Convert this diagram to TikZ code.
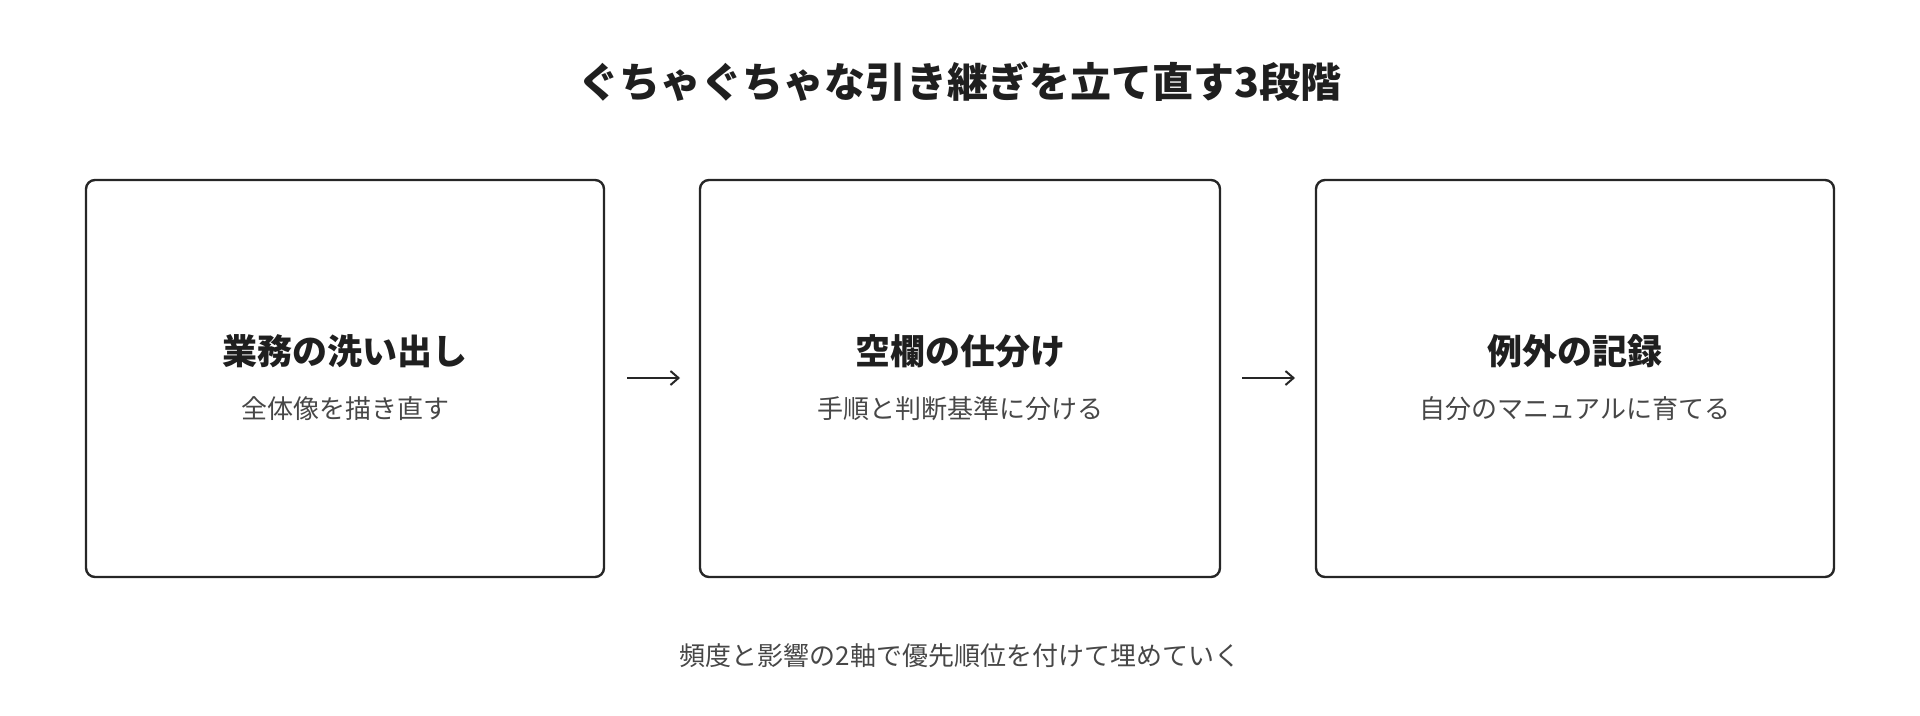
\documentclass[tikz,border=0pt]{standalone}
\usetikzlibrary{arrows.meta}
\usepackage{fontspec}
\newfontfamily\cjk{Noto Sans CJK JP}
\begin{document}
\begin{tikzpicture}[x=1pt,y=-1pt,
  box/.style={draw=black!85,line width=2.4pt,rounded corners=9pt},
  head/.style={font=\cjk\bfseries\fontsize{35}{40}\selectfont,text=black!88},
  sub/.style={font=\cjk\fontsize{26}{30}\selectfont,text=black!72},
  arr/.style={-{Straight Barb[length=8pt,width=14pt]},line width=2pt,draw=black!85}]
\useasboundingbox (0,0) rectangle (1920,715);
\node[font=\cjk\bfseries\fontsize{41}{46}\selectfont,text=black!88] (title) at (960,82) {ぐちゃぐちゃな引き継ぎを立て直す3段階};
\draw[box] (86,180) rectangle (604,577);
\draw[box] (700,180) rectangle (1220,577);
\draw[box] (1316,180) rectangle (1834,577);
\node[head] (h1) at (345,351) {業務の洗い出し};
\node[sub] (s1) at (345,409) {全体像を描き直す};
\node[head] (h2) at (960,351) {空欄の仕分け};
\node[sub] (s2) at (960,409) {手順と判断基準に分ける};
\node[head] (h3) at (1575,351) {例外の記録};
\node[sub] (s3) at (1575,409) {自分のマニュアルに育てる};
\coordinate (a1) at (627,378); \coordinate (b1) at (680,378);
\coordinate (a2) at (1242,378); \coordinate (b2) at (1295,378);
\draw[arr] (a1) -- (b1);
\draw[arr] (a2) -- (b2);
\node[sub] (foot) at (960,656) {頻度と影響の2軸で優先順位を付けて埋めていく};
\end{tikzpicture}
\end{document}
